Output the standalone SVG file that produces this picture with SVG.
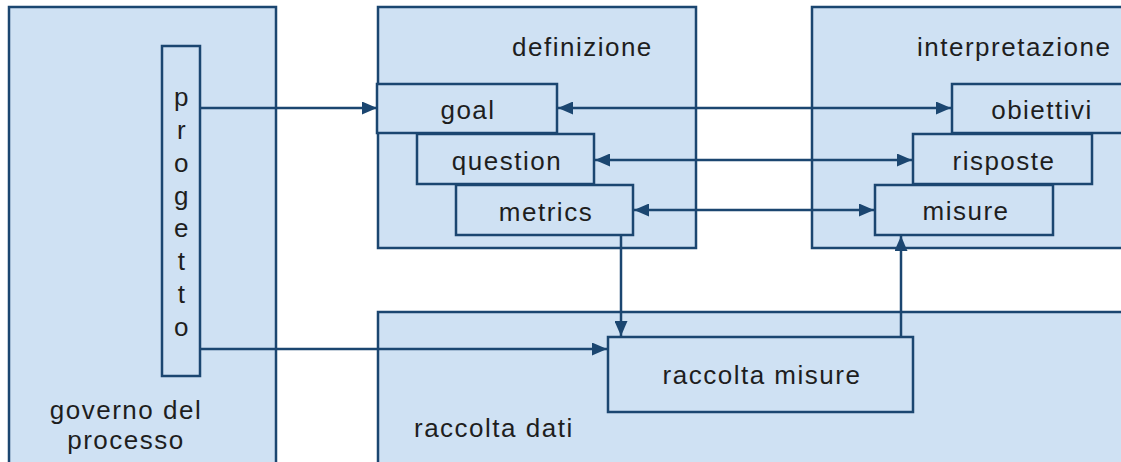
<svg xmlns="http://www.w3.org/2000/svg" width="1121" height="462" viewBox="0 0 1121 462">
  <style>
    .box { fill: #cfe1f3; stroke: #1b4670; stroke-width: 2.5; }
    .lbl { font-family: "Liberation Sans", Arial, sans-serif; font-size: 26px; letter-spacing: 1.5px; fill: #1e1e1e; }
    .mid { text-anchor: middle; }
    .wire { fill: none; stroke: #1b4670; stroke-width: 2.5; }
  </style>
  <defs>
    <marker id="head" markerUnits="userSpaceOnUse" markerWidth="15" markerHeight="13" viewBox="0 0 15 13" refX="15" refY="6.5" orient="auto-start-reverse">
      <path d="M0,0 L15,6.5 L0,13 z" fill="#1b4670"/>
    </marker>
  </defs>

  <!-- process governance area with the vertical project box -->
  <g id="governo">
    <rect class="box" x="9" y="7" width="267" height="470"/>
    <text class="lbl mid" x="126" y="419">governo del</text>
    <text class="lbl mid" x="126" y="449">processo</text>
  </g>
  <g id="progetto">
    <rect class="box" x="162" y="46" width="38" height="330"/>
    <text class="lbl mid" x="182" y="106">p</text>
    <text class="lbl mid" x="182" y="139">r</text>
    <text class="lbl mid" x="182" y="172">o</text>
    <text class="lbl mid" x="182" y="205">g</text>
    <text class="lbl mid" x="182" y="237">e</text>
    <text class="lbl mid" x="182" y="270">t</text>
    <text class="lbl mid" x="182" y="303">t</text>
    <text class="lbl mid" x="182" y="336">o</text>
  </g>

  <!-- definition area: goal / question / metrics -->
  <g id="definizione">
    <rect class="box" x="378" y="7" width="318" height="241"/>
    <text class="lbl" x="512" y="56">definizione</text>
  </g>
  <g id="goal">
    <rect class="box" x="377" y="84" width="180" height="49"/>
    <text class="lbl mid" x="468" y="119">goal</text>
  </g>
  <g id="question">
    <rect class="box" x="417" y="134" width="177" height="50"/>
    <text class="lbl mid" x="507" y="170">question</text>
  </g>
  <g id="metrics">
    <rect class="box" x="456" y="185" width="177" height="50"/>
    <text class="lbl mid" x="546" y="221">metrics</text>
  </g>

  <!-- interpretation area: obiettivi / risposte / misure -->
  <g id="interpretazione">
    <rect class="box" x="812" y="7" width="360" height="241"/>
    <text class="lbl" x="917" y="56">interpretazione</text>
  </g>
  <g id="obiettivi">
    <rect class="box" x="952" y="84" width="176" height="49"/>
    <text class="lbl mid" x="1042" y="119">obiettivi</text>
  </g>
  <g id="risposte">
    <rect class="box" x="913" y="134" width="179" height="50"/>
    <text class="lbl mid" x="1004" y="170">risposte</text>
  </g>
  <g id="misure">
    <rect class="box" x="875" y="185" width="178" height="50"/>
    <text class="lbl mid" x="966" y="220">misure</text>
  </g>

  <!-- data collection area -->
  <g id="raccolta-dati">
    <rect class="box" x="378" y="312" width="800" height="170"/>
    <text class="lbl" x="414" y="437">raccolta dati</text>
  </g>
  <g id="raccolta-misure">
    <rect class="box" x="608" y="337" width="305" height="75"/>
    <text class="lbl mid" x="762" y="384">raccolta misure</text>
  </g>

  <!-- connectors -->
  <g id="connectors">
    <path class="wire" d="M200,108 H377" marker-end="url(#head)"/>
    <path class="wire" d="M200,349 H607" marker-end="url(#head)"/>
    <path class="wire" d="M558,108 H951" marker-start="url(#head)" marker-end="url(#head)"/>
    <path class="wire" d="M595,160 H912" marker-start="url(#head)" marker-end="url(#head)"/>
    <path class="wire" d="M634,210 H874" marker-start="url(#head)" marker-end="url(#head)"/>
    <path class="wire" d="M621,235 V336" marker-end="url(#head)"/>
    <path class="wire" d="M901,337 V236" marker-end="url(#head)"/>
  </g>
</svg>
